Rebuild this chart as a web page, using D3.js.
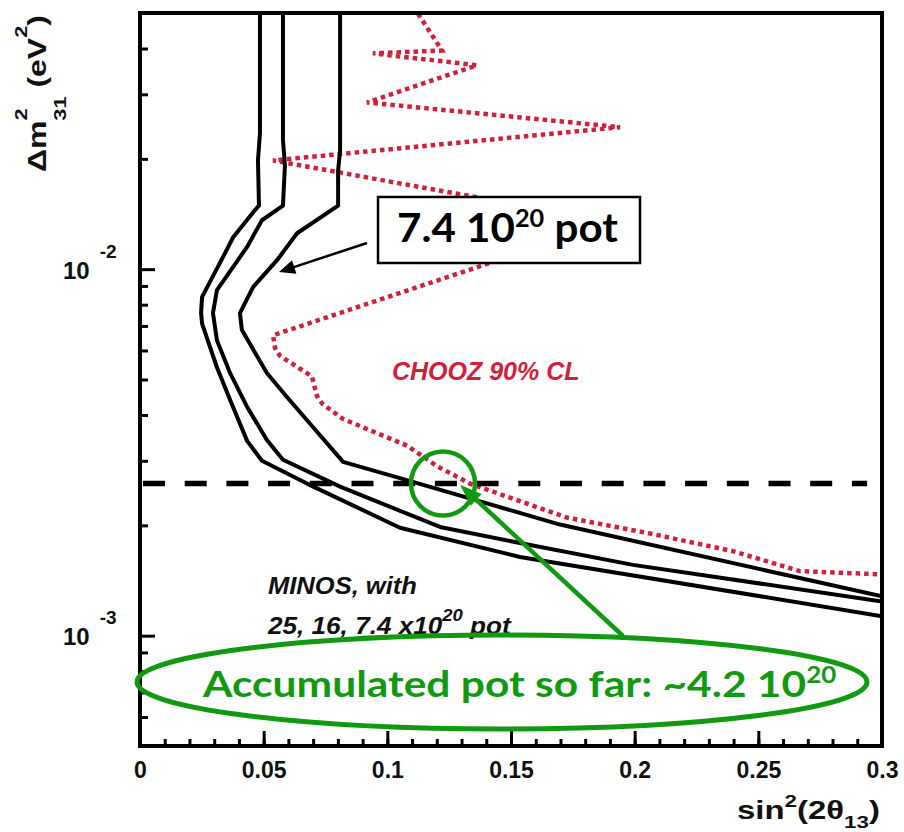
<!DOCTYPE html>
<html>
<head>
<meta charset="utf-8">
<script src="https://cdn.jsdelivr.net/npm/d3@7/dist/d3.min.js"></script>
<style>
  body { margin: 0; background: #fff; }
  svg { display: block; }
</style>
</head>
<body>
<svg id="chart" width="904" height="832"></svg>
<script>
// ---- axis ticks ----
const xMajor = [0, 0.05, 0.1, 0.15, 0.2, 0.25, 0.3];
const xMinor = d3.range(31).map(i => i / 100);
const yMajor = [1e-3, 1e-2];
const yMajorExp = ["-3", "-2"];
const yMinor = [6e-4, 7e-4, 8e-4, 9e-4, 2e-3, 3e-3, 4e-3, 5e-3, 6e-3, 7e-3, 8e-3, 9e-3, 2e-2, 3e-2, 4e-2];

// ---- MINOS sensitivity contours [sin^2(2θ13), Δm^2_31] ----
const minos25 = [[0.0485,0.05],[0.0485,0.0235],[0.0477,0.0198],[0.0481,0.0149],[0.0465,0.0145],[0.0376,0.0122],[0.0336,0.0108],[0.0251,0.0084],[0.0247,0.0076],[0.0251,0.0071],[0.0311,0.0054],[0.0364,0.0044],[0.0433,0.0034],[0.0493,0.0030],[0.0675,0.0026],[0.1051,0.00197],[0.1536,0.00164],[0.3,0.00113]];
const minos16 = [[0.0578,0.05],[0.0578,0.0225],[0.0586,0.0192],[0.0578,0.0149],[0.0493,0.0136],[0.0433,0.0115],[0.0311,0.00877],[0.0295,0.00759],[0.0311,0.0064],[0.0364,0.00521],[0.0433,0.00421],[0.0513,0.00342],[0.0578,0.00302],[0.0809,0.00255],[0.1213,0.00198],[0.1536,0.00179],[0.1993,0.00156],[0.3,0.00124]];
const minos74 = [[0.0809,0.05],[0.0809,0.0211],[0.0801,0.0186],[0.0801,0.0149],[0.0635,0.01253],[0.0554,0.01058],[0.0457,0.00893],[0.0404,0.00759],[0.0412,0.00682],[0.0513,0.00521],[0.0594,0.00448],[0.0699,0.00371],[0.0821,0.00298],[0.1051,0.00269],[0.1698,0.00201],[0.3,0.00128]];

// ---- CHOOZ 90% CL exclusion ----
const chooz = [[0.1124,0.0498],[0.1221,0.0395],[0.0942,0.0388],[0.1362,0.0360],[0.0918,0.0285],[0.1941,0.0244],[0.0538,0.0198],[0.1981,0.0132],[0.1415,0.0104],[0.0538,0.0066],[0.0546,0.0061],[0.0566,0.0058],[0.0695,0.0051],[0.0716,0.0045],[0.0736,0.0043],[0.0821,0.0039],[0.1080,0.0033],[0.1201,0.0029],[0.1334,0.0026],[0.1726,0.0021],[0.2062,0.0019],[0.2398,0.0017],[0.2668,0.0015],[0.3,0.00147]];

// reference Δm^2 and the highlighted crossing point
const refDm2 = 2.6e-3;
const focus = [0.1225, 2.6e-3];
const focusTip = [0.1294, 2.58e-3];

// ---- layout ----
const frame = { left: 140, top: 13, right: 882, bottom: 746 };
const svg = d3.select("#chart");
const x = d3.scaleLinear().domain([0, 0.3]).range([frame.left, frame.right]);
const y = d3.scaleLog().domain([5e-4, 5e-2]).range([frame.bottom, frame.top]);

const GREEN = "#119a11";
const RED = "#d2203a";
const AXISFONT = "'Liberation Sans', Arial, sans-serif";
const HANDFONT = "Lato, 'Open Sans', sans-serif";

svg.append("defs").append("clipPath").attr("id", "plotclip")
  .append("rect").attr("x", frame.left).attr("y", frame.top)
  .attr("width", frame.right - frame.left).attr("height", frame.bottom - frame.top);

// ---- axes (ticks point inward) ----
function styleAxis(g, w) {
  g.select(".domain").remove();
  g.selectAll(".tick line").attr("stroke", "#000").attr("stroke-width", w);
}
svg.append("g").attr("transform", `translate(0,${frame.bottom})`)
  .call(d3.axisBottom(x).tickValues(xMinor).tickSize(-7).tickFormat(""))
  .call(g => styleAxis(g, 3));
const gx = svg.append("g").attr("transform", `translate(0,${frame.bottom})`)
  .call(d3.axisBottom(x).tickValues(xMajor).tickSize(-15).tickFormat(d => d3.format("")(d)))
  .call(g => styleAxis(g, 3));
gx.selectAll(".tick text")
  .attr("y", 32).attr("dy", 0)
  .attr("font-family", AXISFONT).attr("font-size", 23).attr("font-weight", "bold").attr("fill", "#111");

svg.append("g").attr("transform", `translate(${frame.left},0)`)
  .call(d3.axisLeft(y).tickValues(yMinor).tickSize(-8).tickFormat(""))
  .call(g => styleAxis(g, 3));
const gy = svg.append("g").attr("transform", `translate(${frame.left},0)`)
  .call(d3.axisLeft(y).tickValues(yMajor).tickSize(-15).tickFormat(""))
  .call(g => styleAxis(g, 3));
gy.selectAll(".tick").each(function (d, i) {
  const t = d3.select(this).append("text")
    .attr("x", -77).attr("y", 9).attr("text-anchor", "start")
    .attr("font-family", AXISFONT).attr("font-size", 24).attr("font-weight", "bold").attr("fill", "#111");
  t.append("tspan").text("10");
  t.append("tspan").attr("dx", 10).attr("dy", -21).attr("font-size", 19).text(yMajorExp[i]);
});

// ---- curves ----
const line = d3.line().x(d => x(d[0])).y(d => y(d[1]));
const plot = svg.append("g").attr("clip-path", "url(#plotclip)");

plot.append("path").datum(chooz)
  .attr("d", line).attr("fill", "none")
  .attr("stroke", RED).attr("stroke-width", 4.5).attr("stroke-dasharray", "4.5 4");

[minos25, minos16, minos74].forEach(c => {
  plot.append("path").datum(c).attr("d", line).attr("fill", "none")
    .attr("stroke", "#000").attr("stroke-width", 4).attr("stroke-linejoin", "round");
});

plot.append("line")
  .attr("x1", x(0) + 3).attr("x2", x(0.294))
  .attr("y1", y(refDm2)).attr("y2", y(refDm2))
  .attr("stroke", "#000").attr("stroke-width", 5.5).attr("stroke-dasharray", "22 19.7");

// frame
svg.append("rect").attr("x", frame.left).attr("y", frame.top)
  .attr("width", frame.right - frame.left).attr("height", frame.bottom - frame.top)
  .attr("fill", "none").attr("stroke", "#000").attr("stroke-width", 4);

// ---- helpers ----
function fit(text, target) {
  const bw = text.node().getBBox().width;
  text.attr("transform", `scale(${target / bw},1)`);
}
function arrow(g, x1, y1, x2, y2, color, width, len, half) {
  const dx = x2 - x1, dy = y2 - y1, L = Math.hypot(dx, dy);
  const ux = dx / L, uy = dy / L;
  const bx = x2 - ux * len, by = y2 - uy * len;
  g.append("line").attr("x1", x1).attr("y1", y1).attr("x2", bx + ux * 2).attr("y2", by + uy * 2)
    .attr("stroke", color).attr("stroke-width", width);
  g.append("path")
    .attr("d", `M${x2},${y2}L${bx - uy * half},${by + ux * half}L${bx + uy * half},${by - ux * half}Z`)
    .attr("fill", color);
}

// ---- axis titles ----
const xt = svg.append("g").attr("transform", "translate(737,819)")
  .append("text").attr("font-family", AXISFONT).attr("font-size", 25).attr("font-weight", "bold").attr("fill", "#111");
xt.append("tspan").text("sin");
xt.append("tspan").attr("font-size", 17).attr("dy", -12).text("2");
xt.append("tspan").attr("dy", 12).text("(2θ");
xt.append("tspan").attr("font-size", 17).attr("dy", 9).text("13");
xt.append("tspan").attr("dy", -9).text(")");
fit(xt, 143);

const yt = svg.append("g").attr("transform", "translate(46,172) rotate(-90)")
  .append("text").attr("font-family", AXISFONT).attr("font-size", 25).attr("font-weight", "bold").attr("fill", "#111");
yt.append("tspan").text("Δm");
yt.append("tspan").attr("font-size", 17).attr("dy", -19).text("2");
yt.append("tspan").attr("font-size", 17).attr("dx", -9.5).attr("dy", 39).text("31");
yt.append("tspan").attr("dy", -20).text(" (eV");
yt.append("tspan").attr("font-size", 17).attr("dy", -19).text("2");
yt.append("tspan").attr("dy", 19).text(")");
fit(yt, 157);

// ---- labels inside the plot ----
svg.append("text").attr("x", 392).attr("y", 380)
  .attr("font-family", AXISFONT).attr("font-size", 25).attr("font-weight", "bold").attr("font-style", "italic")
  .attr("fill", RED).text("CHOOZ 90% CL");

const m1 = svg.append("g").attr("transform", "translate(268,594)")
  .append("text").attr("font-family", AXISFONT).attr("font-size", 24).attr("font-weight", "bold").attr("font-style", "italic").attr("fill", "#111")
  .text("MINOS, with");
fit(m1, 149);
const m2 = svg.append("g").attr("transform", "translate(268,634)")
  .append("text").attr("font-family", AXISFONT).attr("font-size", 24).attr("font-weight", "bold").attr("font-style", "italic").attr("fill", "#111");
m2.append("tspan").text("25, 16, 7.4 x10");
m2.append("tspan").attr("font-size", 17).attr("dy", -13).text("20");
m2.append("tspan").attr("dy", 13).text(" pot");
fit(m2, 245);

// boxed label with arrow to the 7.4e20 contour
const ann = svg.append("g");
ann.append("rect").attr("x", 378).attr("y", 197).attr("width", 262).attr("height", 66)
  .attr("fill", "#fff").attr("stroke", "#000").attr("stroke-width", 2.5);
const bt = ann.append("g").attr("transform", "translate(397,242)")
  .append("text").attr("font-family", HANDFONT).attr("font-size", 40).attr("font-weight", "bold").attr("fill", "#000");
bt.append("tspan").text("7.4 10");
bt.append("tspan").attr("font-size", 24).attr("dy", -15).text("20");
bt.append("tspan").attr("dy", 15).text(" pot");
fit(bt, 221);
arrow(ann, 367, 243, 279, 272, "#000", 2.5, 16, 7);

// highlighted crossing and accumulated exposure
const hl = svg.append("g");
hl.append("circle").attr("cx", x(focus[0])).attr("cy", y(focus[1])).attr("r", 32)
  .attr("fill", "none").attr("stroke", GREEN).attr("stroke-width", 4.5);
arrow(hl, 623, 636, x(focusTip[0]), y(focusTip[1]), GREEN, 4.5, 22, 8);
hl.append("ellipse").attr("cx", 502).attr("cy", 682).attr("rx", 365).attr("ry", 47)
  .attr("fill", "none").attr("stroke", GREEN).attr("stroke-width", 5);
const gt = hl.append("g").attr("transform", "translate(203,697)")
  .append("text").attr("font-family", HANDFONT).attr("font-size", 36).attr("font-weight", "bold").attr("fill", GREEN);
gt.append("tspan").text("Accumulated pot so far: ~4.2 10");
gt.append("tspan").attr("font-size", 22).attr("dy", -14).text("20");
fit(gt, 635);
</script>
</body>
</html>
